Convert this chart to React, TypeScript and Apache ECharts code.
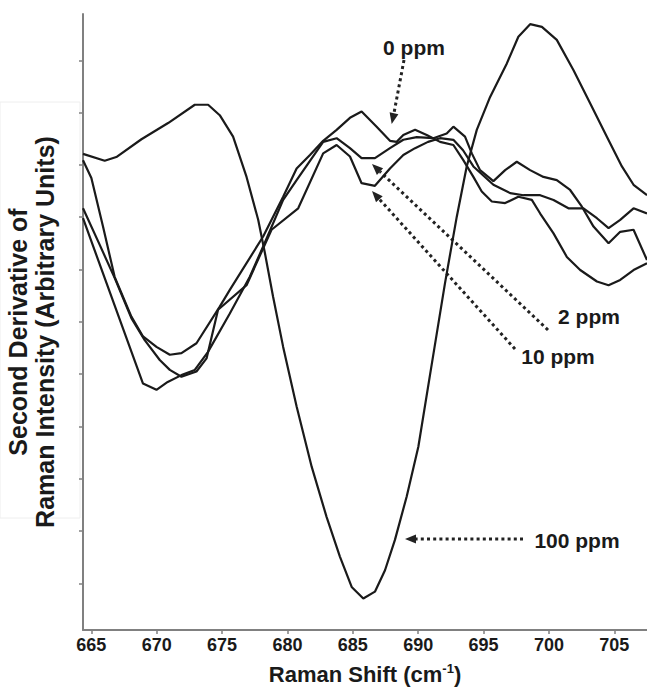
import React, { useEffect, useRef } from "react";
import * as echarts from "echarts";

const xTicks = [665, 670, 675, 680, 685, 690, 695, 700, 705];
const yTicks = [0, 1, 2, 3, 4, 5, 6, 7, 8, 9, 10];

const ppm0: [number, number][] = [
  [664.36, 8.09], [665.0, 7.75], [665.89, 6.82], [666.78, 5.86], [668.06, 5.1],
  [668.95, 4.72], [669.98, 4.52], [671.0, 4.37], [671.89, 4.4], [673.04, 4.59],
  [674.82, 5.29], [675.59, 5.61], [678.14, 6.63], [679.67, 7.39], [680.7, 7.93],
  [681.72, 8.19], [682.73, 8.46], [683.76, 8.67], [684.78, 8.9], [685.67, 9.02],
  [686.82, 8.73], [687.84, 8.46], [688.35, 8.44], [688.86, 8.57], [689.76, 8.67],
  [690.65, 8.57], [691.67, 8.44], [692.69, 8.38], [693.45, 8.09], [694.22, 7.77],
  [694.86, 7.49], [695.63, 7.3], [696.65, 7.27], [697.66, 7.39], [698.69, 7.33],
  [699.33, 7.07], [700.35, 6.69], [701.37, 6.24], [702.39, 5.99], [703.67, 5.77],
  [704.56, 5.7], [705.45, 5.8], [706.47, 5.99], [707.5, 6.12],
];

const ppm2: [number, number][] = [
  [664.36, 6.98], [668.95, 3.82], [669.98, 3.7], [670.84, 3.85], [671.89, 3.98],
  [672.91, 4.08], [673.91, 4.42], [675.59, 5.16], [677.12, 5.86], [678.14, 6.44],
  [679.67, 7.33], [680.7, 7.71], [682.73, 8.44], [683.76, 8.51], [684.78, 8.32],
  [685.67, 8.13], [686.69, 8.13], [687.84, 8.32], [688.86, 8.48], [689.89, 8.53],
  [691.16, 8.51], [692.18, 8.6], [692.69, 8.73], [693.58, 8.54], [694.1, 8.22],
  [694.73, 7.9], [695.75, 7.69], [696.65, 7.9], [697.54, 8.06], [698.56, 7.9],
  [699.58, 7.77], [700.6, 7.71], [701.62, 7.52], [702.52, 7.2], [703.41, 6.82],
  [704.56, 6.5], [705.45, 6.72], [706.47, 6.76], [707.5, 6.18],
];

const ppm10: [number, number][] = [
  [664.36, 7.17], [665.64, 6.47], [666.78, 5.84], [668.06, 5.07], [669.08, 4.65],
  [670.23, 4.27], [671.0, 4.08], [671.89, 3.95], [673.04, 4.05], [673.81, 4.3],
  [674.69, 5.23], [676.87, 5.7], [678.78, 6.76], [680.82, 7.17], [682.73, 8.22],
  [683.76, 8.38], [684.78, 8.16], [685.67, 7.65], [686.69, 7.6], [687.84, 7.93],
  [688.86, 8.19], [689.76, 8.32], [690.75, 8.44], [691.67, 8.51], [692.69, 8.48],
  [693.43, 8.28], [694.22, 7.97], [695.75, 7.62], [697.03, 7.46], [698.05, 7.42],
  [699.33, 7.42], [700.35, 7.33], [701.49, 7.17], [702.64, 7.17], [703.67, 6.98],
  [704.56, 6.79], [705.45, 6.95], [706.47, 7.17], [707.5, 7.07],
];

const ppm100: [number, number][] = [
  [664.36, 8.21], [666.02, 8.08], [666.91, 8.15], [668.83, 8.49], [670.87, 8.8],
  [672.91, 9.15], [673.93, 9.15], [674.82, 8.95], [675.84, 8.54], [676.87, 7.77],
  [677.76, 6.95], [678.27, 6.32], [678.9, 5.48], [679.67, 4.52], [680.7, 3.38],
  [681.85, 2.23], [682.99, 1.27], [684.01, 0.51], [684.91, -0.07], [685.8, -0.29],
  [686.69, -0.16], [687.46, 0.25], [688.22, 0.83], [689.12, 1.66], [690.01, 2.61],
  [690.9, 3.98], [692.05, 5.74], [692.95, 7.01], [693.71, 7.97], [694.48, 8.67],
  [695.5, 9.3], [696.78, 9.94], [697.66, 10.45], [698.56, 10.69], [699.46, 10.64],
  [700.6, 10.39], [701.88, 9.81], [703.15, 9.18], [704.43, 8.54], [705.58, 7.97],
  [706.47, 7.62], [707.5, 7.42],
];

const seriesNames = ["0 ppm", "2 ppm", "10 ppm", "100 ppm"];
const seriesData = [ppm0, ppm2, ppm10, ppm100];

const FONT = '"Liberation Sans", Arial, Helvetica, sans-serif';
const INK = "#1a1a1a";
const AXIS = "#808080";

function dotted(x1: number, y1: number, x2: number, y2: number) {
  return {
    type: "line",
    silent: true,
    shape: { x1, y1, x2, y2 },
    style: { stroke: "#222", lineWidth: 3, lineDash: [3, 3.2], lineCap: "butt" },
  };
}
function head(points: number[][]) {
  return { type: "polygon", silent: true, shape: { points }, style: { fill: "#222" } };
}
function label(text: string, x: number, y: number) {
  return {
    type: "text",
    silent: true,
    x,
    y,
    style: {
      text,
      font: `bold 21px ${FONT}`,
      fill: INK,
      align: "center",
      verticalAlign: "middle",
    },
  };
}

export default function App() {
  const ref = useRef<HTMLDivElement>(null);
  useEffect(() => {
    if (!ref.current) return;
    const chart = echarts.init(ref.current, undefined, { renderer: "svg" });
    chart.setOption({
      animation: false,
      backgroundColor: "#ffffff",
      grid: { left: 83, right: 0, top: 14, bottom: 57 },
      xAxis: {
        type: "value",
        min: 664.36,
        max: 707.5,
        axisLine: { show: true, onZero: false, lineStyle: { color: AXIS, width: 2 } },
        axisTick: {
          show: true,
          customValues: xTicks,
          length: 4,
          lineStyle: { color: AXIS, width: 1.5 },
        },
        axisLabel: {
          customValues: xTicks,
          fontSize: 18,
          fontWeight: "bold",
          fontFamily: FONT,
          color: INK,
          margin: 6,
          lineHeight: 18,
        },
        splitLine: { show: false },
      },
      yAxis: {
        type: "value",
        min: -0.893,
        max: 10.885,
        axisLine: { show: true, onZero: false, lineStyle: { color: AXIS, width: 2 } },
        axisTick: {
          show: true,
          customValues: yTicks,
          length: 4,
          lineStyle: { color: AXIS, width: 1.5 },
        },
        axisLabel: { show: false },
        splitLine: { show: false },
      },
      series: seriesData.map((d, i) => ({
        name: seriesNames[i],
        type: "line",
        data: d,
        symbol: "none",
        showSymbol: false,
        silent: true,
        lineStyle: { color: INK, width: 2.2 },
        z: 3,
      })),
      graphic: [
        {
          type: "rect",
          silent: true,
          shape: { x: 0, y: 102, width: 80, height: 416 },
          style: { fill: "none", stroke: "#eeeeee", lineWidth: 1 },
          z: 0,
        },
        {
          type: "text",
          silent: true,
          x: 31,
          y: 332,
          rotation: Math.PI / 2,
          style: {
            text: "Second Derivative of\nRaman Intensity (Arbitrary Units)",
            font: `bold 25px ${FONT}`,
            fill: INK,
            align: "center",
            verticalAlign: "middle",
            lineHeight: 27,
          },
        },
        {
          type: "text",
          silent: true,
          x: 365,
          y: 674,
          style: {
            text: "{a|Raman Shift (cm}{s|-1}{a|)}",
            align: "center",
            verticalAlign: "middle",
            rich: {
              a: { fontSize: 22, fontWeight: "bold", fontFamily: FONT, fill: INK, color: INK, lineHeight: 24 },
              s: { fontSize: 13, fontWeight: "bold", fontFamily: FONT, fill: INK, color: INK, lineHeight: 13, verticalAlign: "top" },
            },
          },
        },
        label("0 ppm", 414, 47),
        label("2 ppm", 589, 316),
        label("10 ppm", 558, 356),
        label("100 ppm", 577, 540),
        dotted(404, 60, 394, 113),
        head([[391.7, 124], [398.4, 114.2], [389.6, 112.3]]),
        dotted(548, 330, 380, 171.6),
        head([[372, 164], [383.1, 168.3], [376.9, 174.9]]),
        dotted(515, 349, 379.4, 199.2),
        head([[372, 191], [382.7, 196.2], [376.0, 202.2]]),
        dotted(523, 539, 416, 539),
        head([[405, 539], [416, 534.5], [416, 543.5]]),
      ],
    });
    return () => chart.dispose();
  }, []);
  return <div ref={ref} style={{ width: 647, height: 687, position: "absolute", left: 0, top: 0 }} />;
}
